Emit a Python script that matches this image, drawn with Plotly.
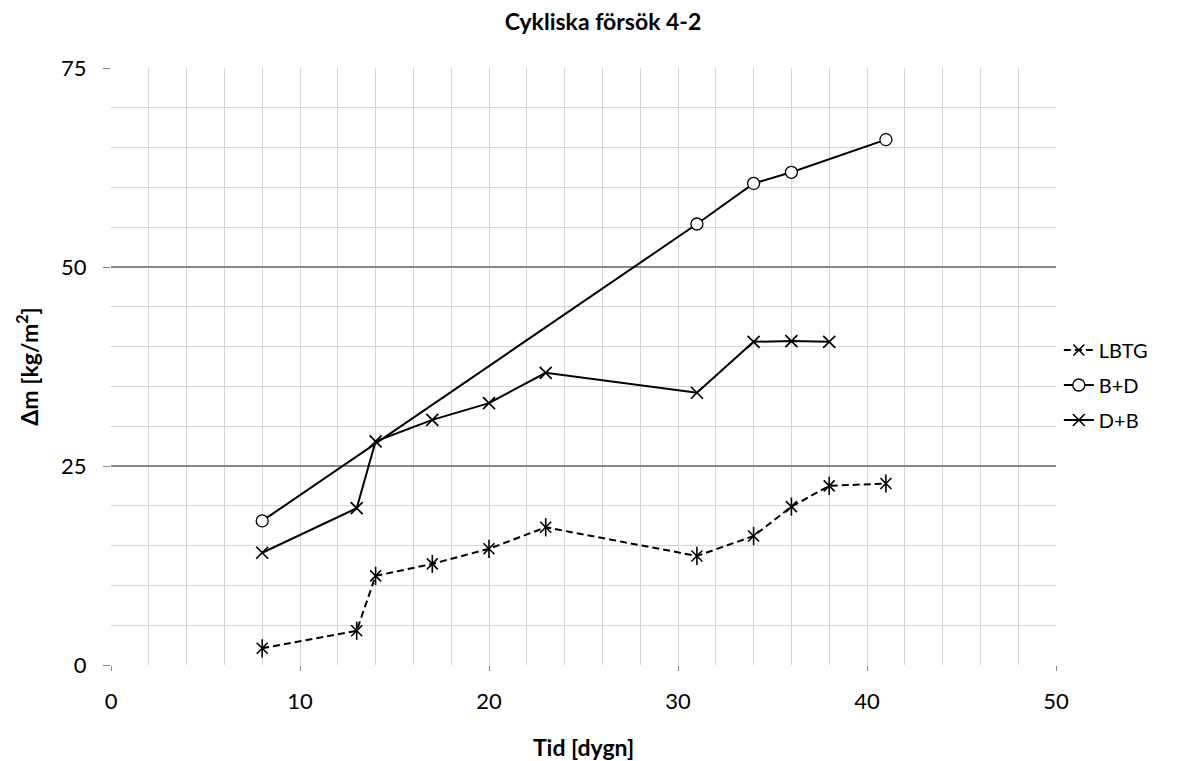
import plotly.graph_objects as go

# Time (days) and mass loss for each series
days_lbtg = [8, 13, 14, 17, 20, 23, 31, 34, 36, 38, 41]
dm_lbtg = [2.1, 4.3, 11.2, 12.7, 14.6, 17.3, 13.7, 16.2, 19.9, 22.5, 22.8]

days_bd = [8, 31, 34, 36, 41]
dm_bd = [18.1, 55.4, 60.5, 61.9, 66.0]

days_db = [8, 13, 14, 17, 20, 23, 31, 34, 36, 38]
dm_db = [14.1, 19.7, 28.1, 30.8, 32.9, 36.7, 34.2, 40.6, 40.7, 40.6]

FONT = "Lato"
BLACK = "#000000"

fig = go.Figure()

# LBTG: dashed line with star markers (x + vertical stroke)
fig.add_trace(go.Scatter(
    x=days_lbtg, y=dm_lbtg, name="LBTG", mode="lines+markers", legendgroup="a",
    line=dict(color=BLACK, width=2, dash="7px,4px"),
    marker=dict(symbol="x-thin-open", size=11, color=BLACK,
                line=dict(color=BLACK, width=1.6)),
))
fig.add_trace(go.Scatter(
    x=days_lbtg, y=dm_lbtg, mode="markers", showlegend=False, hoverinfo="skip",
    legendgroup="a",
    marker=dict(symbol="line-ns-open", size=13, color=BLACK,
                line=dict(color=BLACK, width=1.6)),
))

# B+D: solid line, open circles
fig.add_trace(go.Scatter(
    x=days_bd, y=dm_bd, name="B+D", mode="lines+markers", legendgroup="b",
    line=dict(color=BLACK, width=2),
    marker=dict(symbol="circle", size=12, color="white",
                line=dict(color=BLACK, width=1.3)),
))

# D+B: solid line, x markers
fig.add_trace(go.Scatter(
    x=days_db, y=dm_db, name="D+B", mode="lines+markers", legendgroup="c",
    line=dict(color=BLACK, width=2),
    marker=dict(symbol="x-thin-open", size=12, color=BLACK,
                line=dict(color=BLACK, width=1.7)),
))

fig.update_layout(
    width=1180, height=761,
    paper_bgcolor="white", plot_bgcolor="white",
    margin=dict(l=111, r=124, t=68, b=96),
    font=dict(family=FONT, color="#000000"),
    title=dict(text="<b>Cykliska försök 4-2</b>", x=0.511, xanchor="center",
               xref="container", y=0.971, yanchor="middle",
               font=dict(size=23, family=FONT)),
    showlegend=True,
    legend=dict(x=1.003, xanchor="left", y=0.469, yanchor="middle",
                font=dict(size=20, family=FONT), bgcolor="rgba(0,0,0,0)",
                tracegroupgap=6, itemwidth=30),
)

fig.update_xaxes(
    range=[0, 50], dtick=10, tick0=0, automargin=False,
    showgrid=True, gridcolor="#d4d4d4", gridwidth=1,
    minor=dict(dtick=2, showgrid=True, gridcolor="#d4d4d4", gridwidth=1),
    zeroline=False, showline=False,
    ticks="outside", ticklen=5, tickcolor="#868686",
    ticklabelstandoff=12,
    tickfont=dict(size=22, family=FONT),
    title=dict(text="<b>Tid [dygn]</b>", font=dict(size=23, family=FONT), standoff=28),
)
fig.update_yaxes(
    range=[0, 75], dtick=25, tick0=0, automargin=False,
    showgrid=True, gridcolor="#878787", gridwidth=2,
    minor=dict(dtick=5, showgrid=True, gridcolor="#d4d4d4", gridwidth=1),
    zeroline=False, showline=False,
    ticks="outside", ticklen=7, tickcolor="#868686",
    ticklabelstandoff=12,
    tickfont=dict(size=22, family=FONT),
    title=dict(text="<b>Δm [kg/m<sup>2</sup>]</b>", font=dict(size=23, family=FONT), standoff=16),
)

fig.write_html("out.html")
